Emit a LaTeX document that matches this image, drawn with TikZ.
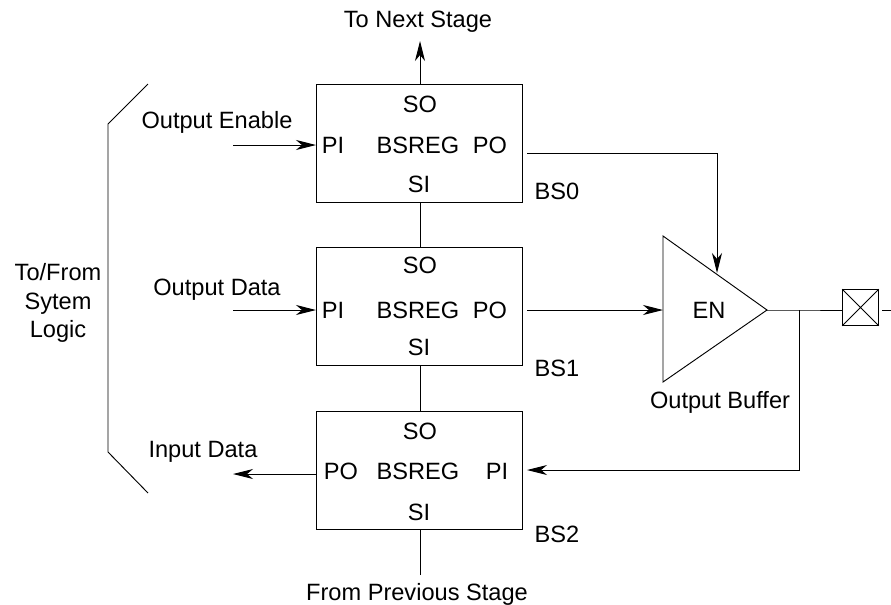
\documentclass[tikz,border=0pt]{standalone}
\usepackage{fontspec}
\setmainfont{Liberation Sans}
\usetikzlibrary{arrows.meta}

\begin{document}
\begin{tikzpicture}[x=0.75pt, y=-0.75pt, line width=0.7pt, >={Stealth[length=15pt, width=7.5pt, inset=4.5pt]},
    font=\fontsize{17.7}{20}\selectfont,
    bsreg/.style={draw, minimum width=154.5pt, minimum height=89pt, outer sep=0, inner sep=0},
    txt/.style={inner sep=0, anchor=center}
  ]
  \useasboundingbox (0,0) rectangle (891,604);
  % registers
  \node[bsreg] (BS0) at (419,143.5) {};
  \node[bsreg] (BS1) at (419,306.5) {};
  \node[bsreg] (BS2) at (419,470.5) {};

  \node[txt] (SO0) at (420,104) {SO};
  \node[txt] (PI0) at (333,145) {PI};
  \node[txt] (REG0) at (418,145) {BSREG};
  \node[txt] (PO0) at (490,145) {PO};
  \node[txt] (SI0) at (419,184) {SI};
  \node[txt] (NAME0) at (557,191) {BS0};

  \node[txt] (SO1) at (420,265) {SO};
  \node[txt] (PI1) at (333,310) {PI};
  \node[txt] (REG1) at (418,310) {BSREG};
  \node[txt] (PO1) at (490,310) {PO};
  \node[txt] (SI1) at (419,347) {SI};
  \node[txt] (NAME1) at (557,368) {BS1};

  \node[txt] (SO2) at (420,431) {SO};
  \node[txt] (PO2) at (341,471) {PO};
  \node[txt] (REG2) at (418,471) {BSREG};
  \node[txt] (PI2) at (497,471) {PI};
  \node[txt] (SI2) at (419,512) {SI};
  \node[txt] (NAME2) at (557,534) {BS2};

  % buffer
  \coordinate (T1) at (663,236);
  \coordinate (T2) at (767,310);
  \coordinate (T3) at (663,382);
  \draw (T1) -- (T2) -- (T3) -- cycle;
  \node[txt] (EN) at (709,310) {EN};
  \node[txt] (BUF) at (720,402) {Output Buffer};

  % pad
  \node[draw, minimum size=27.5pt, outer sep=0, inner sep=0] (PAD) at (860.5,307.5) {};
  \draw (PAD.north west) -- (PAD.south east) (PAD.north east) -- (PAD.south west);

  % labels
  \node[txt] (NEXT) at (418,22) {To Next Stage};
  \node[txt] (PREV) at (417,594) {From Previous Stage};
  \node[txt] (OE) at (217,122) {Output Enable};
  \node[txt] (OD) at (217,290) {Output Data};
  \node[txt] (ID) at (203,452) {Input Data};
  \node[txt, align=center, font=\fontsize{17.7}{21.5}\selectfont] (LOGIC) at (58,303) {To/From\\Sytem\\Logic};

  % free ends
  \coordinate (C1) at (420,41);
  \coordinate (C2) at (420,575);
  \coordinate (C3) at (233,145);
  \coordinate (C4) at (233,310);
  \coordinate (C5) at (233,474);
  \coordinate (C6) at (527,153);
  \coordinate (C7) at (717,273);
  \coordinate (C8) at (527,310);
  \coordinate (C9) at (799,310);
  \coordinate (C10) at (527,470);
  \coordinate (C11) at (891,310);
  \coordinate (C12) at (882,310);

  % connectors
  \draw[->] (C1 |- BS0.north) -- (C1);
  \draw (C2) -- (C2 |- BS2.south);
  \draw (C1 |- BS0.south) -- (C1 |- BS1.north);
  \draw (C1 |- BS1.south) -- (C1 |- BS2.north);
  \draw[->] (C3) -- (C3 -| BS0.west);
  \draw[->] (C4) -- (C4 -| BS1.west);
  \draw[->] (C5 -| BS2.west) -- (C5);
  \draw[->] (C6) -| (C7);
  \draw[->] (C8) -- (T1 |- C8);
  \draw (T2) -- (C9) -- (C9 -| PAD.west);
  \draw[->] (C9) |- (C10);
  \draw (C12) -- (C11);

  % bracket
  \coordinate (B1) at (148,84);
  \coordinate (B2) at (108,124);
  \coordinate (B3) at (108,452);
  \coordinate (B4) at (148,493);
  \draw (B1) -- (B2) -- (B3) -- (B4);
\end{tikzpicture}
\end{document}
